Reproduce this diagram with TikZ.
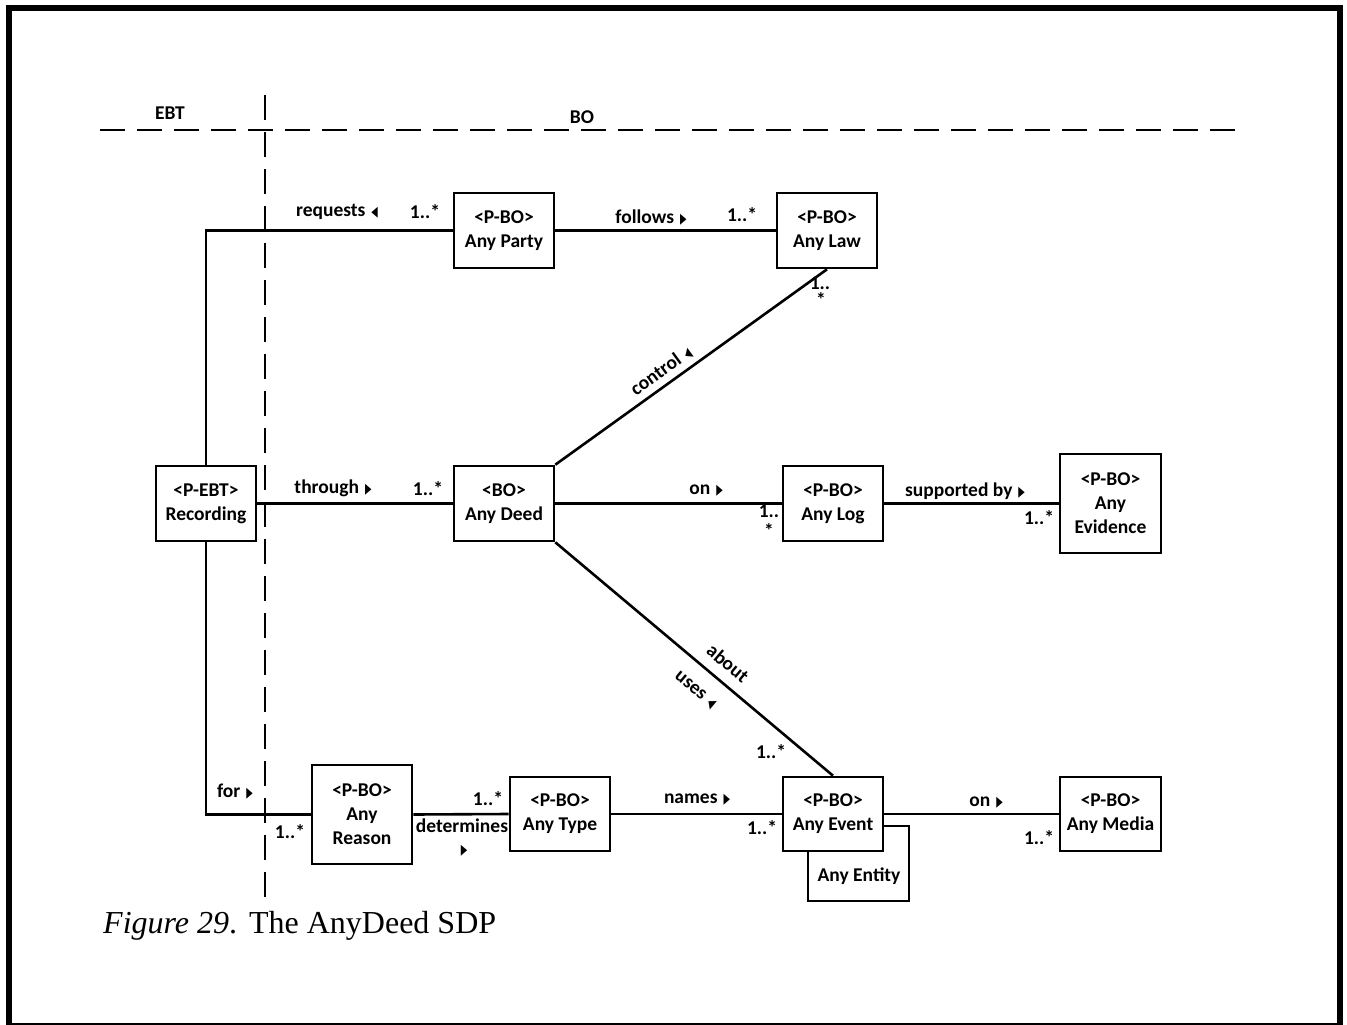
\documentclass[tikz,border=0pt]{standalone}
\usepackage{fontspec}
\usepackage{graphicx}
\setmainfont{Carlito}
\newfontfamily\capfont{Liberation Serif}
\newfontfamily\symfont{DejaVu Sans}
\newcommand{\rtri}{\scalebox{0.7}[1.2]{\symfont\fontsize{12}{12}\selectfont ▶}}
\newcommand{\ltri}{\scalebox{0.7}[1.2]{\symfont\fontsize{12}{12}\selectfont ◀}}
\begin{document}
\begin{tikzpicture}[x=1pt,y=-1pt,
  box/.style={draw, line width=2.6pt, fill=white, minimum width=100pt,
    minimum height=75pt, align=center, inner sep=0pt,
    font=\bfseries\fontsize{19.5}{24}\selectfont},
  lbl/.style={inner sep=0pt, font=\bfseries\fontsize{19.5}{22}\selectfont},
  conn/.style={line width=2.6pt},
  divider/.style={line width=2.8pt, dash pattern=on 25pt off 12pt},
  frame/.style={fill=black, draw=none}]
\useasboundingbox (0,0) rectangle (1347,1025);

% outer frame
\fill[frame] (6,5) rectangle (1343,11);
\fill[frame] (6,5) rectangle (12,1025);
\fill[frame] (1337,5) rectangle (1343,1025);
\fill[frame] (6,1022.5) rectangle (1343,1025);

% layer dividers
\coordinate (hl) at (100,130);
\coordinate (hr) at (1243,130);
\coordinate (vt) at (265,95);
\coordinate (vb) at (265,908);
\draw[divider] (hl) -- (hr);
\draw[divider] (vt) -- (vb);
\node[lbl] (ebt) at (170,113) {EBT};
\node[lbl] (bo) at (582,117) {BO};

% classes
\node[box] (rec) at (206,503.5) {<P-EBT>\\Recording};
\node[box] (party) at (504,230.5) {<P-BO>\\Any Party};
\node[box] (law) at (827,230.5) {<P-BO>\\Any Law};
\node[box] (deed) at (504,503.5) {<BO>\\Any Deed};
\node[box] (log) at (833,503.5) {<P-BO>\\Any Log};
\node[box, minimum width=101pt, minimum height=99pt] (evid) at (1110.5,503.5) {<P-BO>\\Any\\Evidence};
\node[box, minimum height=99pt] (reason) at (362,814.5) {<P-BO>\\Any\\Reason};
\node[box, minimum height=74pt] (type) at (560,814) {<P-BO>\\Any Type};
\node[box, minimum width=101pt] (ent) at (858.5,863.5) {};
\node[lbl] (entname) at (859,876) {Any Entity};
\node[box, minimum height=74pt] (event) at (833,814) {<P-BO>\\Any Event};
\node[box, minimum width=101pt, minimum height=74pt] (media) at (1110.5,814) {<P-BO>\\Any Media};

% associations
\draw[conn] (rec.north) |- (party.west);
\draw[conn] (party.east) -- (law.west);
\draw[conn] (rec.east) -- (deed.west);
\draw[conn] (deed.north east) -- (law.south);
\draw[conn] (deed.east) -- (log.west);
\draw[conn] (log.east) -- (evid.west);
\draw[conn] (deed.south east) -- (event.north);
\draw[conn] (rec.south) |- (reason.west);
\draw[conn] (reason.east) -- (type.west);
\draw[conn] (type.east) -- (event.west);
\draw[conn] (event.east) -- (media.west);

% association names and multiplicities
\node[lbl] (lreq) at (337,212) {requests\hspace{6pt}\ltri};
\node[lbl] (mreq) at (425,212) {1..*};
\node[lbl] (lfol) at (651,218) {follows\hspace{6pt}\rtri};
\node[lbl] (mfol) at (742,215) {1..*};
\node[lbl] (lthr) at (333,488) {through\hspace{6pt}\rtri};
\node[lbl] (mthr) at (428,489) {1..*};
\node[lbl, rotate=36] (lctl) at (661,371) {control\hspace{6pt}\ltri};
\node[lbl] (mctl1) at (820,283) {1..};
\node[lbl] (mctl2) at (821,300) {*};
\node[lbl] (lon) at (706,491) {on\hspace{6pt}\rtri};
\node[lbl] (mon1) at (769,511) {1..};
\node[lbl] (mon2) at (769,531) {*};
\node[lbl] (lsup) at (965,491) {supported by\hspace{6pt}\rtri};
\node[lbl] (msup) at (1039,518) {1..*};
\node[lbl, rotate=-40] (labt) at (728,663) {about};
\node[lbl, rotate=-40] (luse) at (695,690) {uses\hspace{6pt}\ltri};
\node[lbl] (mabt) at (771,752) {1..*};
\node[lbl] (lfor) at (235,792) {for\hspace{6pt}\rtri};
\node[lbl] (mfor) at (290,832) {1..*};
\node[lbl] (mdet) at (488,799) {1..*};
\node[lbl] (ldet) at (462,826) {determines};
\node[lbl] (tdet) at (464,851) {\rtri};
\node[lbl] (lnam) at (697,800) {names\hspace{6pt}\rtri};
\node[lbl] (mnam) at (762,828) {1..*};
\node[lbl] (lmed) at (986,803) {on\hspace{6pt}\rtri};
\node[lbl] (mmed) at (1039,838) {1..*};

% caption
\node[anchor=base west, inner sep=0pt, font=\capfont\fontsize{32}{32}\selectfont] (cap)
  at (103,933) {\textit{Figure 29}.\hspace{12pt}The AnyDeed SDP};
\end{tikzpicture}
\end{document}
